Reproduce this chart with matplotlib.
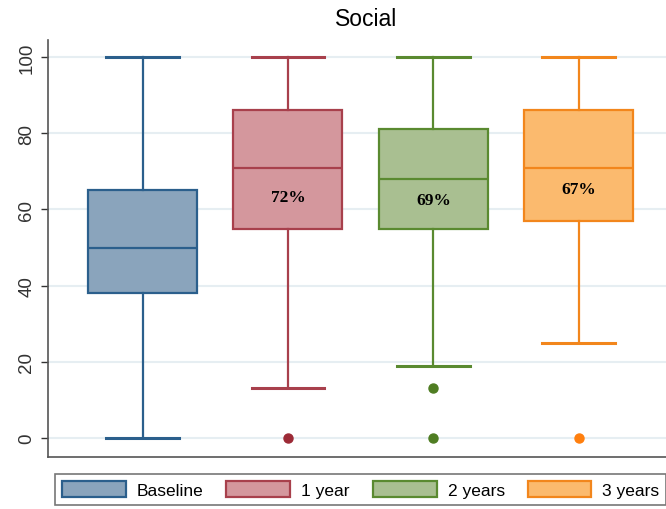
import matplotlib.pyplot as plt
from matplotlib.patches import Patch

# box statistics per wave
groups = ["Baseline", "1 year", "2 years", "3 years"]
whislo = [0, 13, 19, 25]
q1 = [38, 55, 55, 57]
med = [50, 71, 68, 71]
q3 = [65, 86, 81, 86]
whishi = [100, 100, 100, 100]
outliers = [[], [0], [13, 0], [0]]
pct_labels = ["", "72%", "69%", "67%"]
pct_y = [None, 63.3, 62.5, 65.4]

edge_colors = ["#2b5f8c", "#a8404c", "#5a8a30", "#f2861c"]
fill_colors = ["#8aa4bc", "#d4979d", "#a9bf91", "#fbba6e"]
dot_colors = ["#2b5f8c", "#9c2a36", "#4f7d22", "#ff7f0e"]

plt.rcParams['font.family'] = ['Liberation Sans', 'DejaVu Sans']

fig = plt.figure(figsize=(6.66, 5.10), dpi=100)
ax = fig.add_axes([48 / 666, 52 / 510, 1 - 48 / 666, 417 / 510])

stats = []
for i, g in enumerate(groups):
    stats.append(dict(label=g, whislo=whislo[i], q1=q1[i], med=med[i],
                      q3=q3[i], whishi=whishi[i], fliers=outliers[i]))

positions = list(range(1, len(groups) + 1))
bp = ax.bxp(stats, positions=positions, widths=0.75, patch_artist=True,
            showfliers=True)

for i in range(len(groups)):
    bp['boxes'][i].set(facecolor=fill_colors[i], edgecolor=edge_colors[i], linewidth=1.6)
    bp['medians'][i].set(color=edge_colors[i], linewidth=1.6)
    for w in bp['whiskers'][2 * i:2 * i + 2]:
        w.set(color=edge_colors[i], linewidth=1.6)
    for c in bp['caps'][2 * i:2 * i + 2]:
        c.set(color=edge_colors[i], linewidth=2.2)
        xd = c.get_xdata()
        mid = (xd[0] + xd[1]) / 2
        c.set_xdata([mid - 0.25, mid + 0.25])
    bp['fliers'][i].set(marker='o', markerfacecolor=dot_colors[i],
                        markeredgecolor=dot_colors[i], markersize=6.5)

for i, lab in enumerate(pct_labels):
    if lab:
        ax.text(positions[i], pct_y[i], lab, ha='center', va='center',
                fontsize=12.5, fontweight='bold', family='Liberation Serif')

ax.set_xlim(0.35, 4.6)
ax.set_ylim(-5, 104.5)
ax.set_yticks([0, 20, 40, 60, 80, 100])
ax.tick_params(axis='y', labelrotation=90, labelsize=13.5, colors='#333333',
               length=5, width=1, pad=4)
for t in ax.get_yticklabels():
    t.set_va('center')
ax.set_xticks([])
ax.yaxis.grid(True, color='#e6eef2', linewidth=1.5)
ax.set_axisbelow(True)
for s in ['top', 'right']:
    ax.spines[s].set_visible(False)
for s in ['left', 'bottom']:
    ax.spines[s].set_color('#555555')
    ax.spines[s].set_linewidth(1.2)

fig.text(366 / 666, 1 - 20 / 510, "Social", ha='center', va='center', fontsize=16.5)

handles = [Patch(facecolor=fill_colors[i], edgecolor=edge_colors[i], linewidth=1.6)
           for i in range(len(groups))]
leg = fig.legend(handles, groups, ncol=4, loc='lower left',
                 bbox_to_anchor=(55 / 666, 4 / 510), borderaxespad=0,
                 fontsize=12.5, frameon=True, fancybox=False,
                 handlelength=3.68, handleheight=1.09,
                 columnspacing=1.32, handletextpad=0.63, borderpad=0.4)
leg.get_frame().set_edgecolor('#555555')
leg.get_frame().set_linewidth(1.2)

fig.savefig("out.png", dpi=100)
